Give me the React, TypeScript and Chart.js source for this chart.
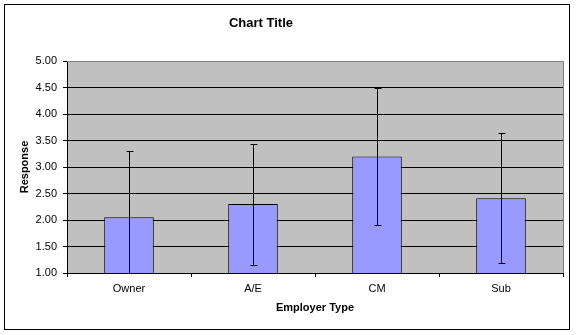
import React, { useEffect, useRef } from "react";
import { Chart, registerables } from "chart.js";

Chart.register(...registerables);

const categories = ["Owner", "A/E", "CM", "Sub"];
const responseValues = [2.05, 2.3, 3.2, 2.41];
const responseErrors = [1.26, 1.14, 1.3, 1.23];
const chartTitle = "Chart Title";
const xTitle = "Employer Type";
const yTitle = "Response";

const FONT = "'Liberation Sans', Arial, sans-serif";

const framePlugin = {
  id: "frame",
  beforeDraw(chart: any) {
    const { ctx, chartArea, width, height } = chart;
    ctx.save();
    ctx.fillStyle = "#ffffff";
    ctx.fillRect(0, 0, width, height);
    ctx.fillStyle = "#C0C0C0";
    ctx.fillRect(chartArea.left, chartArea.top, chartArea.right - chartArea.left, chartArea.bottom - chartArea.top);
    ctx.strokeStyle = "#000";
    ctx.lineWidth = 1;
    ctx.strokeRect(4.5, 4.5, 565, 325);
    // title
    ctx.fillStyle = "#000";
    ctx.font = `bold 13px ${FONT}`;
    ctx.textAlign = "center";
    ctx.textBaseline = "middle";
    ctx.fillText(chartTitle, 261, 23);
    ctx.restore();
  },
  afterDraw(chart: any) {
    const { ctx, chartArea } = chart;
    ctx.save();
    ctx.strokeStyle = "#808080";
    ctx.lineWidth = 1;
    ctx.beginPath();
    ctx.moveTo(chartArea.left, chartArea.top + 0.5);
    ctx.lineTo(chartArea.right + 0.5, chartArea.top + 0.5);
    ctx.lineTo(chartArea.right + 0.5, chartArea.bottom);
    ctx.stroke();
    ctx.restore();
  },
};

const errorBarPlugin = {
  id: "errorBars",
  afterDatasetsDraw(chart: any) {
    const { ctx, chartArea } = chart;
    const meta = chart.getDatasetMeta(0);
    const yScale = chart.scales.y;
    ctx.save();
    ctx.beginPath();
    ctx.rect(chartArea.left, chartArea.top - 2, chartArea.right - chartArea.left, chartArea.bottom - chartArea.top + 2);
    ctx.clip();
    ctx.strokeStyle = "#000";
    ctx.lineWidth = 1;
    meta.data.forEach((bar: any, i: number) => {
      const x = Math.round(bar.x) + 0.5;
      const v = responseValues[i];
      const e = responseErrors[i];
      const yTop = Math.round(yScale.getPixelForValue(v + e)) + 0.5;
      const yBot = Math.round(yScale.getPixelForValue(v - e)) + 0.5;
      ctx.beginPath();
      ctx.moveTo(x, yTop);
      ctx.lineTo(x, yBot);
      ctx.moveTo(x - 3, yTop);
      ctx.lineTo(x + 4, yTop);
      ctx.moveTo(x - 3, yBot);
      ctx.lineTo(x + 4, yBot);
      ctx.stroke();
    });
    ctx.restore();
  },
};

export default function App() {
  const ref = useRef<HTMLCanvasElement | null>(null);
  useEffect(() => {
    document.body.style.margin = "0";
    if (!ref.current) return;
    const chart = new Chart(ref.current, {
      type: "bar",
      data: {
        labels: categories,
        datasets: [
          {
            data: responseValues,
            backgroundColor: "#9999FF",
            borderColor: "#000000",
            borderWidth: 1,
            categoryPercentage: 1,
            barPercentage: 0.4,
          },
        ],
      },
      options: {
        animation: false,
        responsive: false,
        devicePixelRatio: 1,
        layout: { padding: { left: 0, right: 13, top: 61, bottom: 0 } },
        plugins: {
          legend: { display: false },
          title: { display: false },
          tooltip: { enabled: false },
        },
        scales: {
          x: {
            type: "category",
            offset: true,
            grid: { offset: true, drawOnChartArea: false, tickLength: 4, color: "#000" },
            border: { color: "#000", width: 1 },
            ticks: { color: "#000", font: { family: FONT, size: 11 }, padding: 5 },
            title: {
              display: true,
              text: xTitle,
              color: "#000",
              font: { family: FONT, size: 11, weight: "bold" },
              padding: { top: 0, bottom: 20 },
            },
            afterFit(scale: any) {
              scale.height = 62;
            },
          },
          y: {
            min: 1,
            max: 5,
            ticks: {
              stepSize: 0.5,
              color: "#000",
              font: { family: FONT, size: 11 },
              padding: 6,
              callback: (v: any) => Number(v).toFixed(2),
            },
            grid: {
              color: (c: any) => (c.tick && c.tick.value === 5 ? "#808080" : "#000"),
              tickColor: "#000",
              tickLength: 4,
              lineWidth: 1,
            },
            border: { color: "#000", width: 1 },
            title: {
              display: true,
              text: yTitle,
              color: "#000",
              font: { family: FONT, size: 11, weight: "bold" },
              padding: { top: 18, bottom: 0 },
            },
            afterFit(scale: any) {
              scale.width = 67;
            },
          },
        },
      },
      plugins: [framePlugin, errorBarPlugin],
    });
    return () => chart.destroy();
  }, []);
  return (
    <div style={{ width: 576, height: 335 }}>
      <canvas ref={ref} width={576} height={335} style={{ width: 576, height: 335, display: "block" }} />
    </div>
  );
}
